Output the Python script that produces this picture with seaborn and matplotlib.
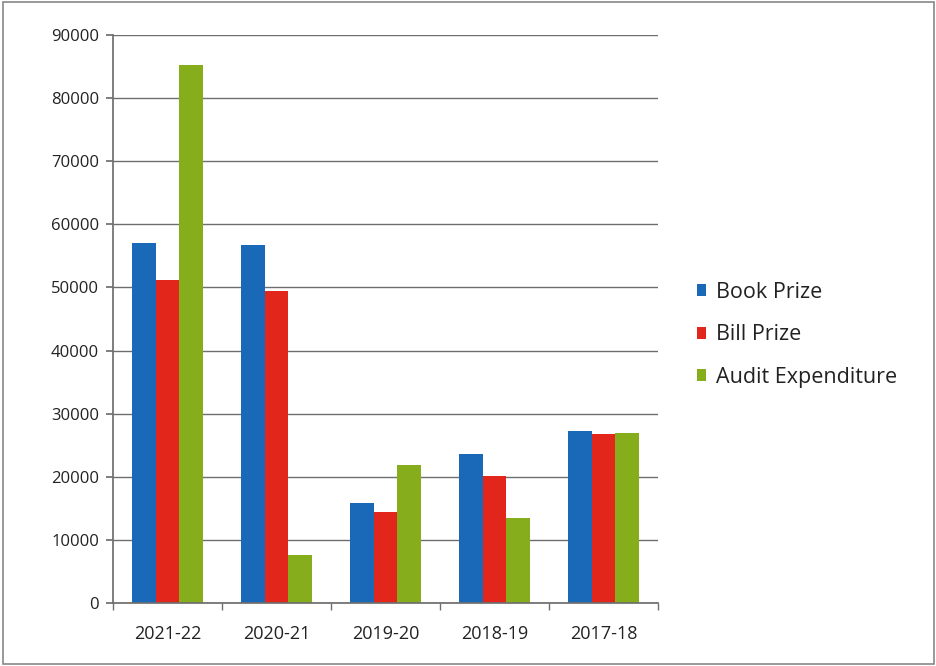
import matplotlib
matplotlib.use("Agg")
import matplotlib.pyplot as plt
import seaborn as sns
import pandas as pd
import numpy as np

categories = ["2021-22", "2020-21", "2019-20", "2018-19", "2017-18"]
book_prize = [57000, 56800, 15900, 23600, 27200]
bill_prize = [51200, 49500, 14400, 20200, 26700]
audit_expenditure = [85300, 7600, 21800, 13500, 26900]
series_names = ["Book Prize", "Bill Prize", "Audit Expenditure"]
colors = ["#1a68b8", "#e2261c", "#86ad1c"]
yticks = list(range(0, 90001, 10000))

df = pd.DataFrame({
    "Year": categories * 3,
    "Series": [series_names[0]] * 5 + [series_names[1]] * 5 + [series_names[2]] * 5,
    "Value": book_prize + bill_prize + audit_expenditure,
})

sns.set_theme(style="white")
plt.rcParams["font.family"] = ["Open Sans", "DejaVu Sans"]

fig = plt.figure(figsize=(9.37, 6.66), dpi=100)
ax = fig.add_axes([113 / 937, (666 - 603) / 666, (658 - 113) / 937, (603 - 35) / 666])

sns.barplot(data=df, x="Year", y="Value", hue="Series", order=categories,
            hue_order=series_names, palette=colors, width=0.66, saturation=1,
            ax=ax, errorbar=None, edgecolor="none")

ax.set_ylim(0, 90000)
ax.set_xlim(-0.5, 4.5)
ax.set_yticks(yticks)
ax.set_yticklabels([str(v) for v in yticks])
ax.yaxis.grid(True, color="#6e6e6e", linewidth=1.0)
ax.set_axisbelow(True)
ax.set_xlabel("")
ax.set_ylabel("")
for s in ["top", "right"]:
    ax.spines[s].set_visible(False)
ax.spines["left"].set_color("#6e6e6e")
ax.spines["bottom"].set_color("#6e6e6e")
ax.tick_params(axis="y", length=5, color="#6e6e6e", labelsize=12, pad=5, left=True,
               labelcolor="#222222")
ax.tick_params(axis="x", length=0, labelsize=13, pad=16, labelcolor="#222222")
# category boundary ticks
ax.set_xticks(np.arange(-0.5, 5.0, 1.0), minor=True)
ax.tick_params(axis="x", which="minor", length=5, color="#6e6e6e", bottom=True)

leg = ax.legend(loc="center left", frameon=False,
                fontsize=15.5, handlelength=0.45, handleheight=0.45, labelspacing=1.0,
                handletextpad=0.45, borderaxespad=0)
leg.set_bbox_to_anchor((1.055, 0.472), transform=ax.transAxes)
for t in leg.get_texts():
    t.set_color("#222222")

fig.patches.append(plt.Rectangle((0.003, 0.003), 0.994, 0.994, transform=fig.transFigure,
                                 fill=False, edgecolor="#888888", linewidth=1.2))

fig.savefig("out.png", dpi=100)
